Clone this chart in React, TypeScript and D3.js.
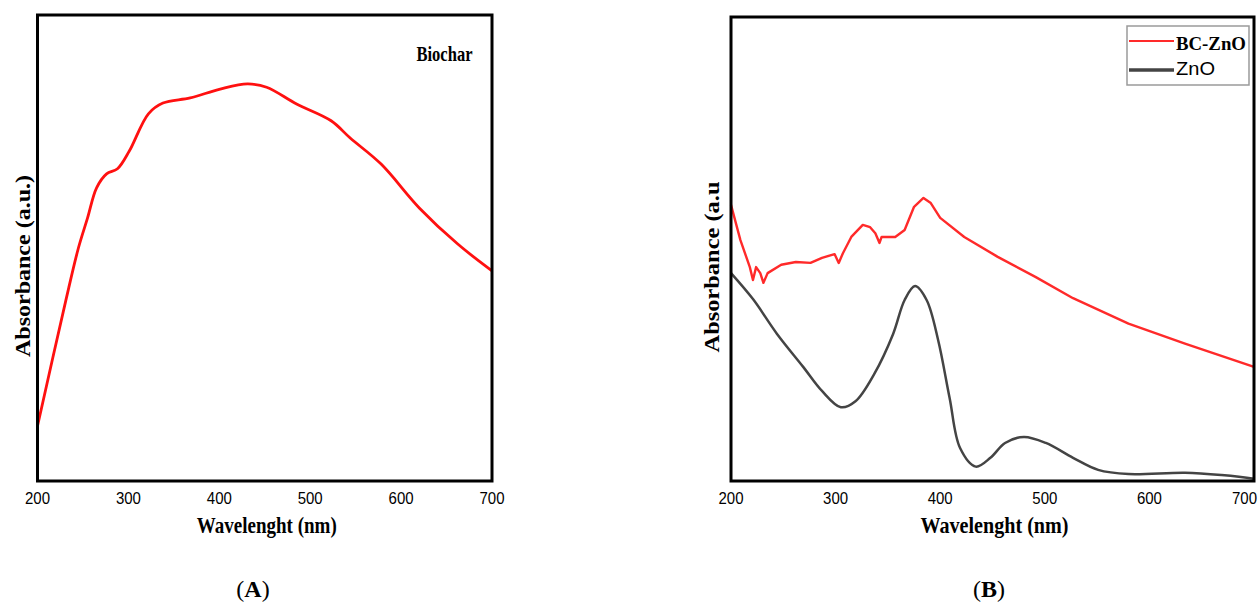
import React from 'react';
import * as d3 from 'd3';

// panel A - biochar
const biocharWl = [200, 231, 245, 255, 265, 276, 288, 301, 322, 338, 368, 401, 431, 452, 485, 523, 544, 578, 620, 662, 700];
const biocharAbs = [0.118, 0.386, 0.5, 0.564, 0.629, 0.659, 0.670, 0.708, 0.788, 0.811, 0.822, 0.841, 0.852, 0.845, 0.809, 0.773, 0.736, 0.680, 0.586, 0.509, 0.451];

// panel B - BC-ZnO and ZnO
const bcWl = [200, 209, 218, 221, 224, 228, 231, 235, 248, 262, 276, 287, 299, 303, 307, 315, 326, 333, 338, 342, 344, 357, 366, 375, 384, 391, 400, 423, 455, 491, 527, 580, 634, 700];
const bcAbs = [0.595, 0.519, 0.461, 0.433, 0.461, 0.448, 0.427, 0.448, 0.466, 0.472, 0.470, 0.481, 0.489, 0.470, 0.491, 0.526, 0.552, 0.547, 0.534, 0.513, 0.526, 0.526, 0.541, 0.591, 0.610, 0.599, 0.567, 0.526, 0.483, 0.440, 0.394, 0.339, 0.296, 0.246];
const znoWl = [200, 221, 244, 269, 287, 305, 319, 337, 355, 366, 376, 387, 398, 409, 419, 434, 448, 462, 480, 501, 527, 551, 580, 634, 669, 700];
const znoAbs = [0.448, 0.392, 0.317, 0.246, 0.194, 0.159, 0.172, 0.231, 0.317, 0.390, 0.420, 0.390, 0.304, 0.179, 0.071, 0.031, 0.050, 0.082, 0.095, 0.082, 0.050, 0.024, 0.015, 0.018, 0.013, 0.005];

const xTicks = [200, 300, 400, 500, 600, 700];
const legendLabels = ['BC-ZnO', 'ZnO'];

const SERIF = '"Liberation Serif", "Times New Roman", serif';
const SANS = '"Liberation Sans", Arial, sans-serif';

function Panel({ left, right, top, bottom, xTitle, xTitleLen, yTitle, yTitleLen, yTitleX, letter, letterX, lastTickEnd, children, xScaleRef }) {
  const x = xScaleRef;
  return (
    <g>
      {children}
      <rect x={left} y={top} width={right - left} height={bottom - top} fill="none" stroke="#000" strokeWidth={3} />
      {xTicks.map((t, i) => {
        // last label of panel B sits against the page edge
        const clip = lastTickEnd && i === xTicks.length - 1;
        return (
          <text key={t} x={clip ? lastTickEnd : x(t)} y={504} textAnchor={clip ? 'end' : 'middle'} fontFamily={SANS} fontSize={16}
            textLength={25} lengthAdjust="spacingAndGlyphs">{t}</text>
        );
      })}
      <text x={(left + right) / 2 + 2} y={533} textAnchor="middle" fontFamily={SERIF} fontWeight="bold" fontSize={24}
        textLength={xTitleLen} lengthAdjust="spacingAndGlyphs">{xTitle}</text>
      <text transform={`translate(${yTitleX},${(top + bottom) / 2 + 18}) rotate(-90)`} textAnchor="middle"
        fontFamily={SERIF} fontWeight="bold" fontSize={20} textLength={yTitleLen} lengthAdjust="spacingAndGlyphs">{yTitle}</text>
      <text x={letterX} y={597} textAnchor="middle" fontFamily={SERIF} fontSize={24}>
        (<tspan fontWeight="bold">{letter}</tspan>)
      </text>
    </g>
  );
}

export default function App() {
  // panel A scales
  const xA = d3.scaleLinear().domain([200, 700]).range([37.5, 492]);
  const yA = d3.scaleLinear().domain([0, 1]).range([481, 15]);
  // panel B scales
  const xB = d3.scaleLinear().domain([200, 700]).range([731, 1254]);
  const yB = d3.scaleLinear().domain([0, 1]).range([481, 17]);

  const lineA = d3.line<number>().x((d, i) => xA(biocharWl[i])).y(d => yA(d)).curve(d3.curveCatmullRom.alpha(0.5));
  const lineBC = d3.line<number>().x((d, i) => xB(bcWl[i])).y(d => yB(d)).curve(d3.curveLinear);
  const lineZnO = d3.line<number>().x((d, i) => xB(znoWl[i])).y(d => yB(d)).curve(d3.curveCatmullRom.alpha(0.5));

  const legendColors = ['#ff2a2a', '#444444'];

  return (
    <svg width={1258} height={603} style={{ position: 'absolute', left: 0, top: 0, background: '#fff' }}>
      <Panel left={37.5} right={492} top={15} bottom={481} xScaleRef={xA} letterX={253}
        xTitle="Wavelenght (nm)" xTitleLen={140} yTitle="Absorbance (a.u.)" yTitleLen={182} yTitleX={30} letter="A">
        <path d={lineA(biocharAbs)} fill="none" stroke="#ff1010" strokeWidth={2.8} />
        <text x={416.5} y={61} fontFamily={SERIF} fontWeight="bold" fontSize={22} textLength={56}
          lengthAdjust="spacingAndGlyphs">Biochar</text>
      </Panel>
      <Panel left={731} right={1254} top={17} bottom={481} xScaleRef={xB} letterX={989} lastTickEnd={1257}
        xTitle="Wavelenght (nm)" xTitleLen={148} yTitle="Absorbance (a.u" yTitleLen={171} yTitleX={719} letter="B">
        <path d={lineZnO(znoAbs)} fill="none" stroke="#444444" strokeWidth={2.5} />
        <path d={lineBC(bcAbs)} fill="none" stroke="#ff2a2a" strokeWidth={2.4} strokeLinejoin="round" />
        <rect x={1127} y={26} width={122} height={59} fill="#fff" stroke="#9a9a9a" strokeWidth={1.5} />
        {legendLabels.map((lab, i) => (
          <g key={lab}>
            <line x1={1129} x2={1174} y1={41 + i * 29} y2={41 + i * 29} stroke={legendColors[i]} strokeWidth={i === 0 ? 2 : 3.5} />
            <text x={1176} y={50 + i * 25} fontFamily={i === 0 ? SERIF : SANS} fontWeight={i === 0 ? 'bold' : 'normal'} fontSize={19}
              textLength={i === 0 ? 70 : 39} lengthAdjust="spacingAndGlyphs">{lab}</text>
          </g>
        ))}
      </Panel>
    </svg>
  );
}
